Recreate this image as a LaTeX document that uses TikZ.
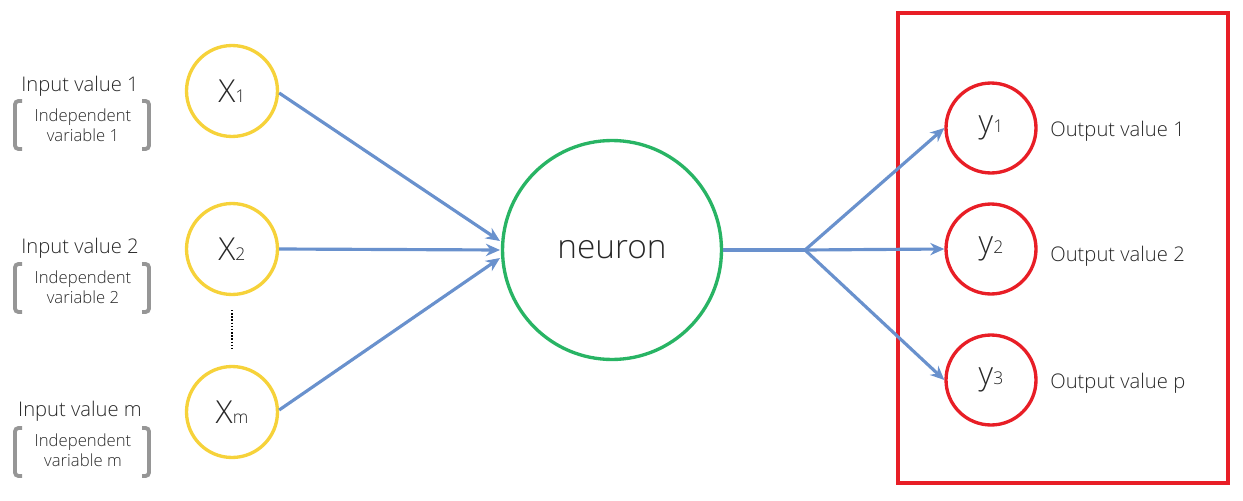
\documentclass[tikz,border=0pt]{standalone}
\usepackage{fontspec}
\setmainfont{Open Sans Light}
\usetikzlibrary{arrows.meta}
\definecolor{txt}{RGB}{40,40,40}
\definecolor{yel}{RGB}{246,210,58}
\definecolor{grn}{RGB}{40,180,100}
\definecolor{rd}{RGB}{232,30,38}
\definecolor{blu}{RGB}{105,145,205}
\definecolor{brk}{RGB}{150,150,150}
\tikzset{
  inp/.style={circle,draw=yel,line width=1.9pt,minimum size=1.82cm,inner sep=0pt,text=txt,font=\fontsize{18}{20}\selectfont},
  outp/.style={circle,draw=rd,line width=1.9pt,minimum size=1.80cm,inner sep=0pt,text=txt,font=\fontsize{18}{20}\selectfont},
  neur/.style={circle,draw=grn,line width=1.9pt,minimum size=4.38cm,inner sep=0pt,text=txt,font=\fontsize{19}{22}\selectfont},
  conn/.style={draw=blu,line width=1.8pt},
  arr/.style={conn,-{Stealth[length=8pt,width=7pt]}},
  lbl/.style={text=txt,font=\fontsize{11.5}{14}\selectfont,inner sep=0pt},
  sub/.style={text=txt,font=\fontsize{9.5}{11.5}\selectfont,align=center,inner sep=0pt},
  brack/.style={draw=brk,line width=2.2pt,rounded corners=2pt},
  redbox/.style={draw=rd,line width=2pt},
}
\newcommand{\sbs}[1]{{\fontsize{10}{12}\selectfont #1}}
\begin{document}
\begin{tikzpicture}[x=0.02cm,y=-0.02cm]
\useasboundingbox (0,0) rectangle (1243,500);
% red box
\draw[redbox] (898,13) rectangle (1228,483);
% input nodes
\node[inp] (x1) at (232,91) {X\sbs{1}};
\node[inp] (x2) at (232,249) {X\sbs{2}};
\node[inp] (xm) at (232,412) {X\sbs{m}};
% neuron
\node[neur] (n) at (612,250) {neuron};
% outputs
\node[outp] (y1) at (991,128) {y\sbs{1}};
\node[outp] (y2) at (991,249) {y\sbs{2}};
\node[outp] (y3) at (991,380) {y\sbs{3}};
% output labels
\node[lbl,anchor=west] (o1) at (1050,131) {Output value 1};
\node[lbl,anchor=west] (o2) at (1050,256) {Output value 2};
\node[lbl,anchor=west] (o3) at (1050,383) {Output value p};
% input labels
\node[lbl] (i1) at (80,86) {Input value 1};
\node[sub] (s1) at (83,125) {Independent\\variable 1};
\node[lbl] (i2) at (80,248) {Input value 2};
\node[sub] (s2) at (83,287) {Independent\\variable 2};
\node[lbl] (i3) at (80,411) {Input value m};
\node[sub] (s3) at (83,450) {Independent\\variable m};
% brackets
\foreach \yy in {101,264,428}{
  \draw[brack] (22,\yy) -- (15,\yy) -- (15,\yy+48) -- (22,\yy+48);
  \draw[brack] (142,\yy) -- (149,\yy) -- (149,\yy+48) -- (142,\yy+48);
}
% dots
\coordinate (d1) at (232,310);
\coordinate (d2) at (232,351);
\draw[black,line width=0.9pt,dash pattern=on 0.8pt off 1pt] (d1) -- (d2);
% input arrows
\coordinate (t1) at (500,241);
\coordinate (t2) at (500,250);
\coordinate (t3) at (500,258);
\draw[arr] (x1.east) ++(0,2) -- (t1);
\draw[arr] (x2.east) -- (t2);
\draw[arr] (xm.east) ++(0,-2) -- (t3);
% output
\coordinate (b) at (805,250);
\draw[conn] (n.east) -- (b);
\draw[arr] (b) -- (y1.west);
\draw[arr] (b) -- (y2.west);
\draw[arr] (b) -- (y3.west);
\end{tikzpicture}
\end{document}
